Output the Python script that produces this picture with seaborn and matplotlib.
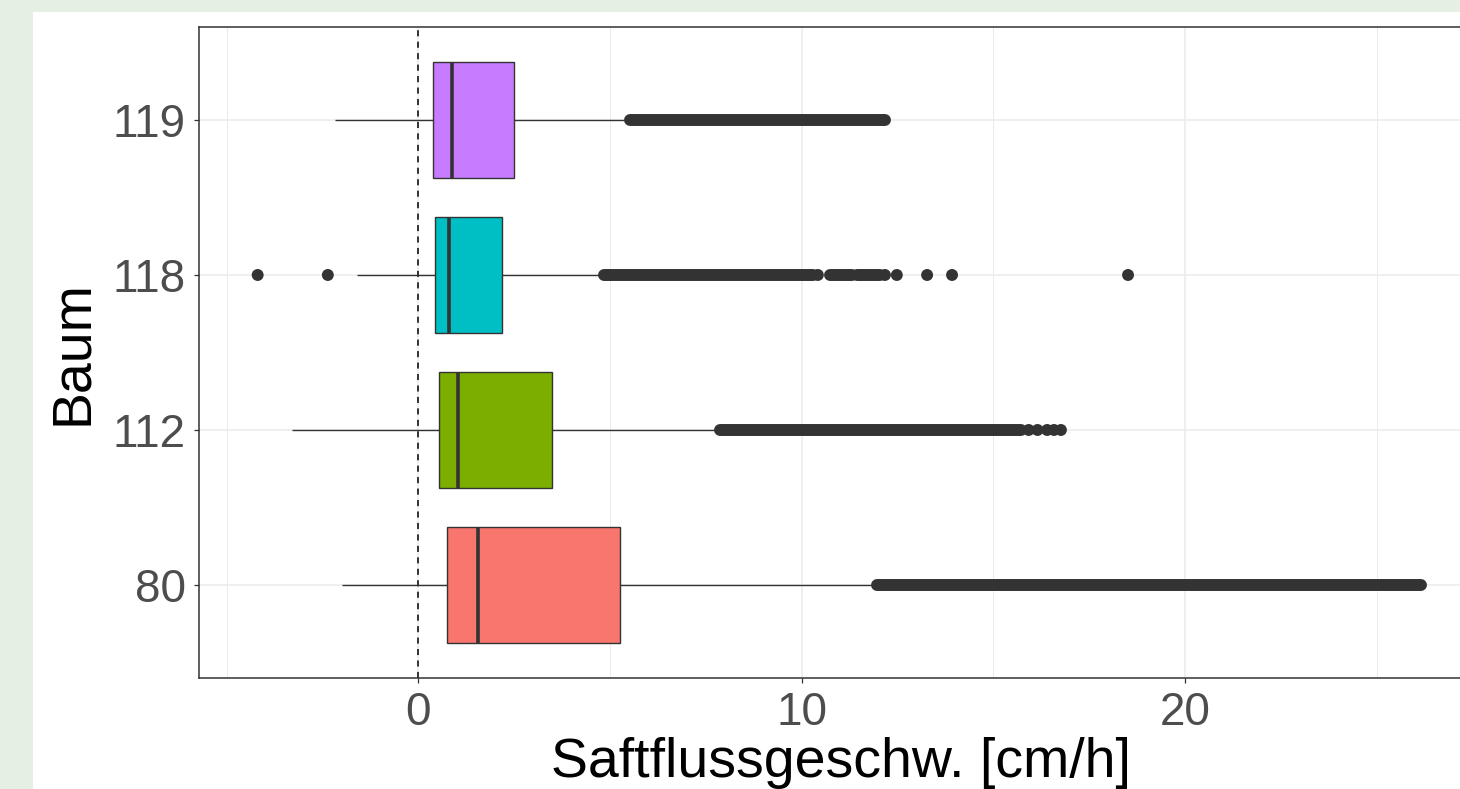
import matplotlib
matplotlib.use("Agg")
import matplotlib.pyplot as plt
from matplotlib.patches import Rectangle
import numpy as np
import pandas as pd
import seaborn as sns

# Trees, top to bottom on the y axis
trees = ["119", "118", "112", "80"]
tree_colors = ["#C77CFF", "#00BFC4", "#7CAE00", "#F8766D"]

# Box summary per tree [cm/h]
whisker_low = [-2.17, -1.61, -3.29, -1.99]
q1 = [0.38, 0.43, 0.54, 0.75]
median = [0.88, 0.80, 1.04, 1.56]
q3 = [2.49, 2.18, 3.49, 5.26]
whisker_high = [5.40, 4.72, 7.75, 11.85]

# Outliers drawn so densely that they merge into a bar: (start, end) per tree
dense_outliers = [
    [(5.52, 12.17)],
    [(4.84, 10.30), (10.74, 11.31), (11.44, 12.04)],
    [(7.87, 15.72)],
    [(11.96, 26.15)],
]
# Separate outlier points per tree
single_outliers = [
    [],
    [-4.19, -2.36, 10.42, 12.17, 12.48, 13.27, 13.92, 18.51],
    [15.92, 16.15, 16.40, 16.58, 16.76],
    [],
]

# Seven-value sample per tree whose quartiles reproduce the box summary;
# whiskers are drawn to its min and max
rows = []
for t, lo, a, m, b, hi in zip(trees, whisker_low, q1, median, q3, whisker_high):
    for v in (lo, a, a, m, b, b, hi):
        rows.append({"Baum": t, "v": v})
df = pd.DataFrame(rows)

sns.set_theme(style="white")
plt.rcParams["font.family"] = ["Liberation Sans", "DejaVu Sans"]

fig = plt.figure(figsize=(14.6, 7.89), dpi=100)
fig.patch.set_facecolor("#E6EFE4")
fig.add_artist(Rectangle((33 / 1460, 0), 1.0, 1 - 12 / 789,
                         transform=fig.transFigure, facecolor="white",
                         edgecolor="none", zorder=0))
ax = fig.add_axes([0.1363, 0.1407, 1.0158 - 0.1363, 0.9658 - 0.1407])
ax.set_facecolor("white")

dark = "#333333"
sns.boxplot(data=df, x="v", y="Baum", hue="Baum", order=trees, hue_order=trees,
            palette=dict(zip(trees, tree_colors)), saturation=1, legend=False,
            width=0.75, whis=(0, 100), showfliers=False, showcaps=False,
            linecolor=dark, linewidth=1.0,
            medianprops={"linewidth": 2.6, "color": dark},
            ax=ax, zorder=3)

# Outliers
msize = 8.6
for i, runs in enumerate(dense_outliers):
    for s, e in runs:
        ax.plot([s, e], [i, i], color=dark, lw=msize, solid_capstyle="round",
                zorder=4)
pts = pd.DataFrame([{"x": v, "y": i} for i, vals in enumerate(single_outliers)
                    for v in vals])
sns.scatterplot(data=pts, x="x", y="y", color=dark, s=msize ** 2,
                edgecolor="none", ax=ax, zorder=4, legend=False)

# Reference line at zero flow
ax.axvline(0, color="black", lw=1.1, ls=(0, (4, 3.5)), zorder=2)

ax.set_xlim(-5.72, 27.77)
ax.set_ylim(3.6, -0.6)
ax.set_xticks([0, 10, 20])
ax.set_xticks([-5, 5, 15, 25], minor=True)
ax.set_yticks(range(len(trees)))
ax.set_yticklabels(trees)

ax.grid(which="major", color="#EBEBEB", lw=1.1, zorder=0)
ax.grid(which="minor", axis="x", color="#EBEBEB", lw=0.7, zorder=0)
ax.set_axisbelow(True)

for sp in ax.spines.values():
    sp.set_visible(True)
    sp.set_color(dark)
    sp.set_linewidth(1.1)

ax.tick_params(which="major", length=3.5, width=0.9, color=dark,
               labelsize=33, labelcolor="#4D4D4D", pad=6, left=True, bottom=True)
ax.tick_params(axis="x", which="major", pad=6)
ax.tick_params(which="minor", length=0)

ax.set_xlabel("Saftflussgeschw. [cm/h]", fontsize=40, color="black")
ax.xaxis.set_label_coords(0.5, -0.0905)
ax.set_ylabel("Baum", fontsize=40, color="black", labelpad=10)

fig.savefig("out.png", dpi=100, facecolor=fig.get_facecolor())
